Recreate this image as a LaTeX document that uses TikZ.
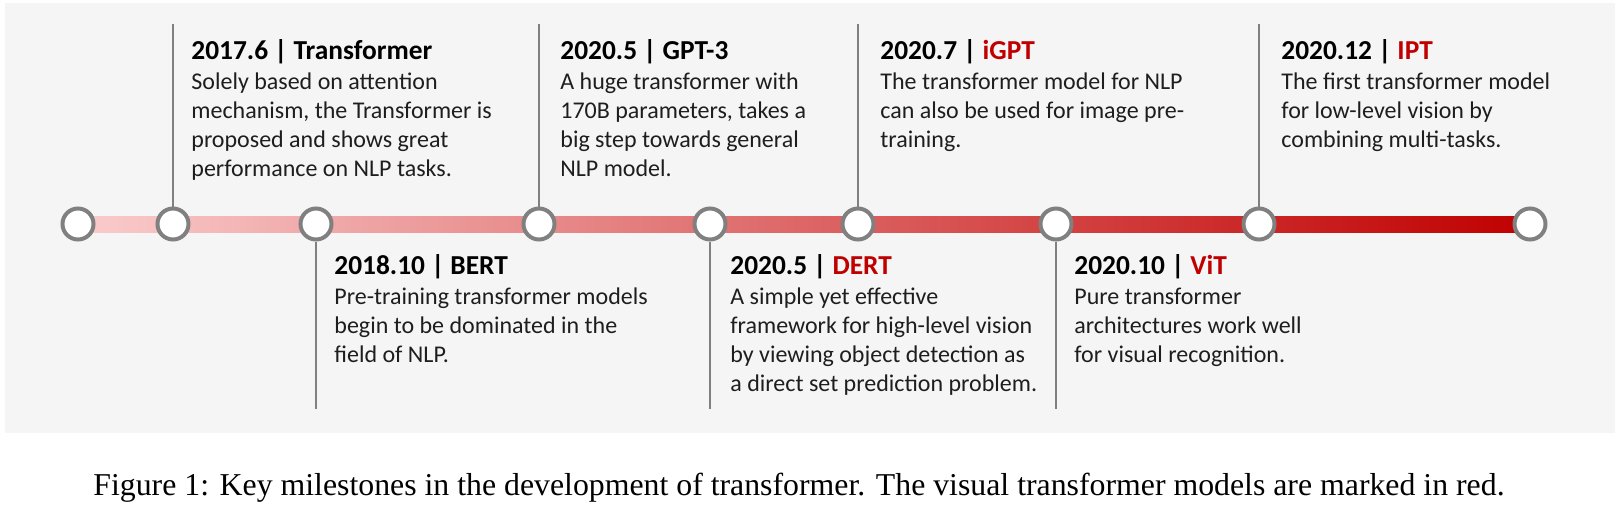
\documentclass[tikz,border=0pt]{standalone}
\usepackage{fontspec}
\setmainfont{Liberation Serif}
\newfontfamily\calibri{Carlito}
\usetikzlibrary{positioning}
\definecolor{panelgray}{RGB}{245,245,245}
\definecolor{dotgray}{RGB}{128,128,128}
\definecolor{visred}{RGB}{192,0,0}
\definecolor{barpink}{RGB}{250,204,204}
\definecolor{barmid}{RGB}{232,128,128}
\definecolor{bodytext}{RGB}{30,30,30}
\newcommand{\lines}[1]{\begin{tabular}[t]{@{}l@{}}#1\end{tabular}}

\begin{document}
\begin{tikzpicture}[x=0.5pt,y=-0.5pt,
  dot/.style={circle, draw=dotgray, line width=2pt, fill=white, minimum size=15.5pt, inner sep=0pt},
  stem/.style={draw=dotgray, line width=1.4pt},
  head/.style={anchor=base west, inner sep=0pt, font=\calibri\fontsize{13.7}{16}\selectfont\bfseries},
  body/.style={anchor=base west, inner sep=0pt, text=bodytext, font=\calibri\fontsize{12}{14.5}\selectfont}]
\useasboundingbox (0,0) rectangle (1624,510);
\fill[panelgray] (5,3) rectangle (1615,433);

% timeline
\foreach \i/\x in {1/78,2/173,3/316,4/539,5/710,6/858,7/1056,8/1259,9/1530}
  \coordinate (p\i) at (\x,224);
\shade[left color=barpink, middle color=barmid, right color=visred] ([yshift=-4pt]p1) rectangle ([yshift=4pt]p9);
\foreach \i in {1,...,9}
  \node[dot] (c\i) at (p\i) {};

% milestones above the line
\foreach \i/\x/\tx/\hd/\bd in {
  2/173/191/{2017.6 | Transformer}/{Solely based on attention\\mechanism, the Transformer is\\proposed and shows great\\performance on NLP tasks.},
  4/539/560/{2020.5 | GPT-3}/{A huge transformer with\\170B parameters, takes a\\big step towards general\\NLP model.},
  6/858/880/{2020.7 | \textcolor{visred}{iGPT}}/{The transformer model for NLP\\can also be used for image pre-\\training.},
  8/1259/1281/{2020.12 | \textcolor{visred}{IPT}}/{The first transformer model\\for low-level vision by\\combining multi-tasks.}}{
  \coordinate (t\i) at (\x,24);
  \draw[stem] (c\i) -- (t\i);
  \node[head] (h\i) at (\tx,59) {\hd};
  \node[body] (b\i) at (\tx,89) {\lines{\bd}};
}

% milestones below the line
\foreach \i/\x/\tx/\hd/\bd in {
  3/316/334/{2018.10 | BERT}/{Pre-training transformer models\\begin to be dominated in the\\field of NLP.},
  5/710/730/{2020.5 | \textcolor{visred}{DERT}}/{A simple yet effective\\framework for high-level vision\\by viewing object detection as\\a direct set prediction problem.},
  7/1056/1074/{2020.10 | \textcolor{visred}{ViT}}/{Pure transformer\\architectures work well\\for visual recognition.}}{
  \coordinate (t\i) at (\x,409);
  \draw[stem] (c\i) -- (t\i);
  \node[head] (h\i) at (\tx,274) {\hd};
  \node[body] (b\i) at (\tx,304) {\lines{\bd}};
}

\node[anchor=base west, inner sep=0pt, font=\fontsize{15.9}{18}\selectfont] (cap) at (93,495)
  {Figure 1: Key milestones in the development of transformer. The visual transformer models are marked in red.};
\end{tikzpicture}
\end{document}
